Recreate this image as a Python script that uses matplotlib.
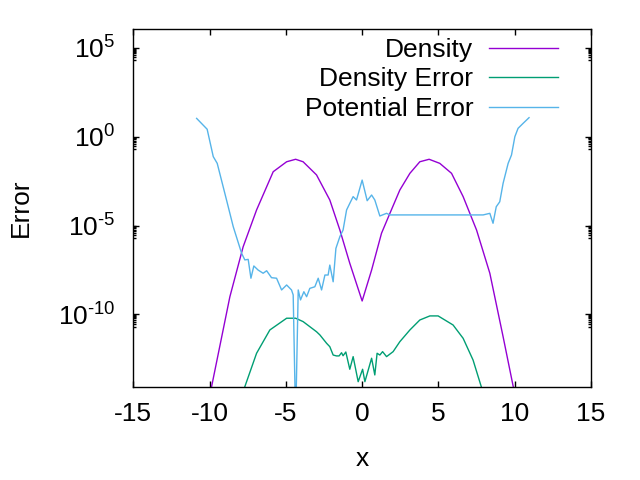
import numpy as np
import matplotlib.pyplot as plt
from matplotlib.ticker import FixedLocator, FuncFormatter

plt.rcParams['font.family'] = ['Liberation Sans', 'DejaVu Sans']
plt.rcParams['mathtext.fontset'] = 'custom'
plt.rcParams['mathtext.rm'] = 'Liberation Sans'
plt.rcParams['mathtext.default'] = 'regular'
plt.rcParams['axes.unicode_minus'] = False

# values, y given as log10 exponents
density_x = [-10.4, -9.87, -8.67, -7.80, -6.92, -5.83, -4.95, -4.36, -3.87, -2.99, -2.12,
             -1.46, -0.81, 0.0, 0.62, 1.27, 1.82, 2.47, 3.13, 3.78, 4.39, 5.09, 5.86,
             6.62, 7.50, 8.37, 9.24, 9.86, 10.4]
density_exp = [-16.1, -14.06, -9.00, -6.19, -4.12, -1.97, -1.41, -1.27, -1.41, -2.15, -3.56,
               -5.25, -7.12, -9.24, -7.50, -5.43, -4.31, -3.00, -2.06, -1.41, -1.27, -1.50, -2.06,
               -3.37, -5.25, -7.68, -11.25, -13.87, -16.1]

derr_x = [-8.2, -7.69, -6.92, -6.05, -4.95, -4.36, -3.87, -2.99, -2.77, -2.33, -2.12, -1.90,
          -1.68, -1.51, -1.35, -1.25, -1.07, -0.81, -0.59, -0.26, 0.03, 0.18, 0.62, 0.83,
          0.98, 1.16, 1.34, 1.60, 2.03, 2.47, 3.13, 3.78, 4.44, 4.98, 5.96, 6.62, 7.27,
          7.82, 8.2]
derr_exp = [-15.3, -14.06, -12.18, -10.87, -10.21, -10.21, -10.40, -10.97, -11.15, -11.62, -11.81, -12.28,
            -12.33, -12.33, -12.15, -12.32, -12.11, -13.08, -12.37, -13.78, -13.08, -13.78, -12.46, -13.40,
            -12.18, -12.28, -12.09, -12.37, -12.09, -11.53, -10.87, -10.31, -10.08, -10.08, -10.59, -11.34, -12.56,
            -14.09, -15.3]

perr_x = [-10.85, -10.16, -9.76, -9.50, -8.89, -8.45, -7.90, -7.69, -7.47, -7.29, -7.10, -6.82,
          -6.49, -6.26, -5.94, -5.61, -5.28, -4.95, -4.63, -4.52, -4.36, -4.19, -4.04, -3.82,
          -3.64, -3.43, -3.10, -2.88, -2.66, -2.44, -2.23, -2.12, -1.90, -1.72, -1.46, -1.25,
          -1.02, -0.81, -0.59, -0.37, 0.0, 0.33, 0.62, 0.83, 1.16, 1.60, 1.82, 7.93, 8.37,
          8.58, 8.79, 9.02, 9.24, 9.57, 9.79, 10.01, 10.22, 10.55, 10.94]
perr_exp = [1.03, 0.42, -1.12, -1.50, -3.56, -5.06, -6.56, -6.93, -6.90, -7.96, -7.27, -7.50,
            -7.68, -7.54, -7.93, -7.96, -8.62, -8.34, -8.62, -8.90, -16.0, -8.62, -9.18, -8.72,
            -9.00, -8.53, -8.44, -7.96, -8.62, -7.78, -7.78, -7.22, -8.16, -6.28, -5.62, -5.25,
            -4.12, -3.75, -3.37, -3.56, -2.44, -3.60, -3.28, -3.56, -4.46, -4.31, -4.40, -4.40, -4.31,
            -4.87, -3.94, -3.66, -2.62, -1.50, -1.03, 0.0, 0.47, 0.75, 1.07]

x_ticks = [-15, -10, -5, 0, 5, 10, 15]
y_ticks = [1e-10, 1e-5, 1e0, 1e5]


def sci_label(v, pos):
    e = int(round(np.log10(v)))
    if e < 0:
        return r'10$^{\text{-}%d}$' % (-e)
    return r'10$^{%d}$' % e


fig = plt.figure(figsize=(6.4, 4.8), dpi=100)
ax = fig.add_axes([0.2083, 0.1944, 0.9234 - 0.2083, 0.939 - 0.1944])

ax.plot(density_x, 10.0 ** np.array(density_exp), color='#9400d3', lw=1, label='Density')
ax.plot(derr_x, 10.0 ** np.array(derr_exp), color='#009e73', lw=1, label='Density Error')
ax.plot(perr_x, 10.0 ** np.array(perr_exp), color='#56b4e9', lw=1, label='Potential Error')

ax.set_yscale('log')
ax.set_xlim(-15, 15)
ax.set_ylim(8.7e-15, 1.1e6)
ax.set_xticks(x_ticks)
ax.yaxis.set_major_locator(FixedLocator(y_ticks))
minor = [k * 10.0 ** (e - 1) for e in (5, 0, -5, -10) for k in range(2, 10)]
ax.yaxis.set_minor_locator(FixedLocator(minor))
ax.yaxis.set_major_formatter(FuncFormatter(sci_label))
ax.yaxis.set_minor_formatter(FuncFormatter(lambda v, p: ''))

fs = 19
ax.tick_params(which='both', direction='in', top=True, right=True, labelsize=fs)
ax.tick_params(which='major', length=4, width=1)
ax.tick_params(which='minor', length=2, width=1)
ax.tick_params(axis='x', pad=11)
ax.tick_params(axis='y', pad=13)
for s in ax.spines.values():
    s.set_linewidth(1)

ax.set_xlabel('x', fontsize=fs, labelpad=15)
ax.set_ylabel('Error', fontsize=fs, labelpad=18)

ax.legend(loc='upper right', bbox_to_anchor=(0.956, 1.012), frameon=False, fontsize=fs,
          markerfirst=False, handlelength=2.6, handletextpad=0.6, labelspacing=0.2,
          borderaxespad=0.1)

fig.savefig('out.png', dpi=100)
